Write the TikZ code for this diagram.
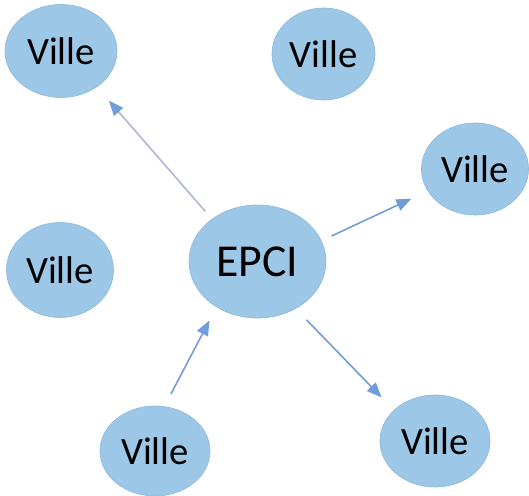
\documentclass[tikz,border=0pt]{standalone}
\usepackage{fontspec}
\setmainfont{Carlito}
\usetikzlibrary{shapes.geometric, arrows.meta}
\definecolor{cityfill}{RGB}{157,199,230}
\definecolor{cityedge}{RGB}{143,187,222}
\definecolor{linkblue}{RGB}{112,156,216}
\definecolor{linkgrey}{RGB}{170,184,208}
\tikzstyle{ville} = [ellipse, 
draw=cityedge, 
fill=cityfill, 
inner sep=0pt, 
minimum width=2.14cm, 
minimum height=1.84cm, 
font=\fontsize{22}{26}\selectfont]
\tikzstyle{epci} = [ville, minimum width=2.74cm, minimum height=2.26cm, font=\fontsize{26}{30}\selectfont]
\tikzstyle{arrow} = [draw=linkblue, line width=0.9pt, -{Triangle[length=0.3cm, width=0.24cm, color=linkblue]}]

\begin{document}
\begin{tikzpicture}[x=0.02cm, y=-0.02cm]
        \useasboundingbox (0,0) rectangle (529,496);
        \node (epci) [epci] at (257.5,261.5) {EPCI};
        \node (nw) [ville, minimum width=2.24cm, minimum height=1.86cm] at (61,51) {Ville};
        \node (n) [ville, minimum width=2.06cm] at (323.5,54) {Ville};
        \node (e) [ville] at (475,169) {Ville};
        \node (w) [ville, minimum height=1.9cm] at (60,270) {Ville};
        \node (sw) [ville, minimum width=2.2cm, minimum height=1.8cm] at (155,451) {Ville};
        \node (se) [ville, minimum width=2.2cm] at (435,441) {Ville};
        \draw [arrow, draw=linkgrey, shorten <=0.2cm, shorten >=0.36cm] (epci.137) -- (nw.315);
        \draw [arrow, shorten <=0.22cm, shorten >=0.36cm] (epci.18) -- (e.205);
        \draw [arrow, shorten <=0.28cm, shorten >=0.3cm] (sw.78) -- (epci.228);
        \draw [arrow, shorten <=0.31cm, shorten >=0.35cm] (epci.309) -- (se.143);
    \end{tikzpicture}
\end{document}
